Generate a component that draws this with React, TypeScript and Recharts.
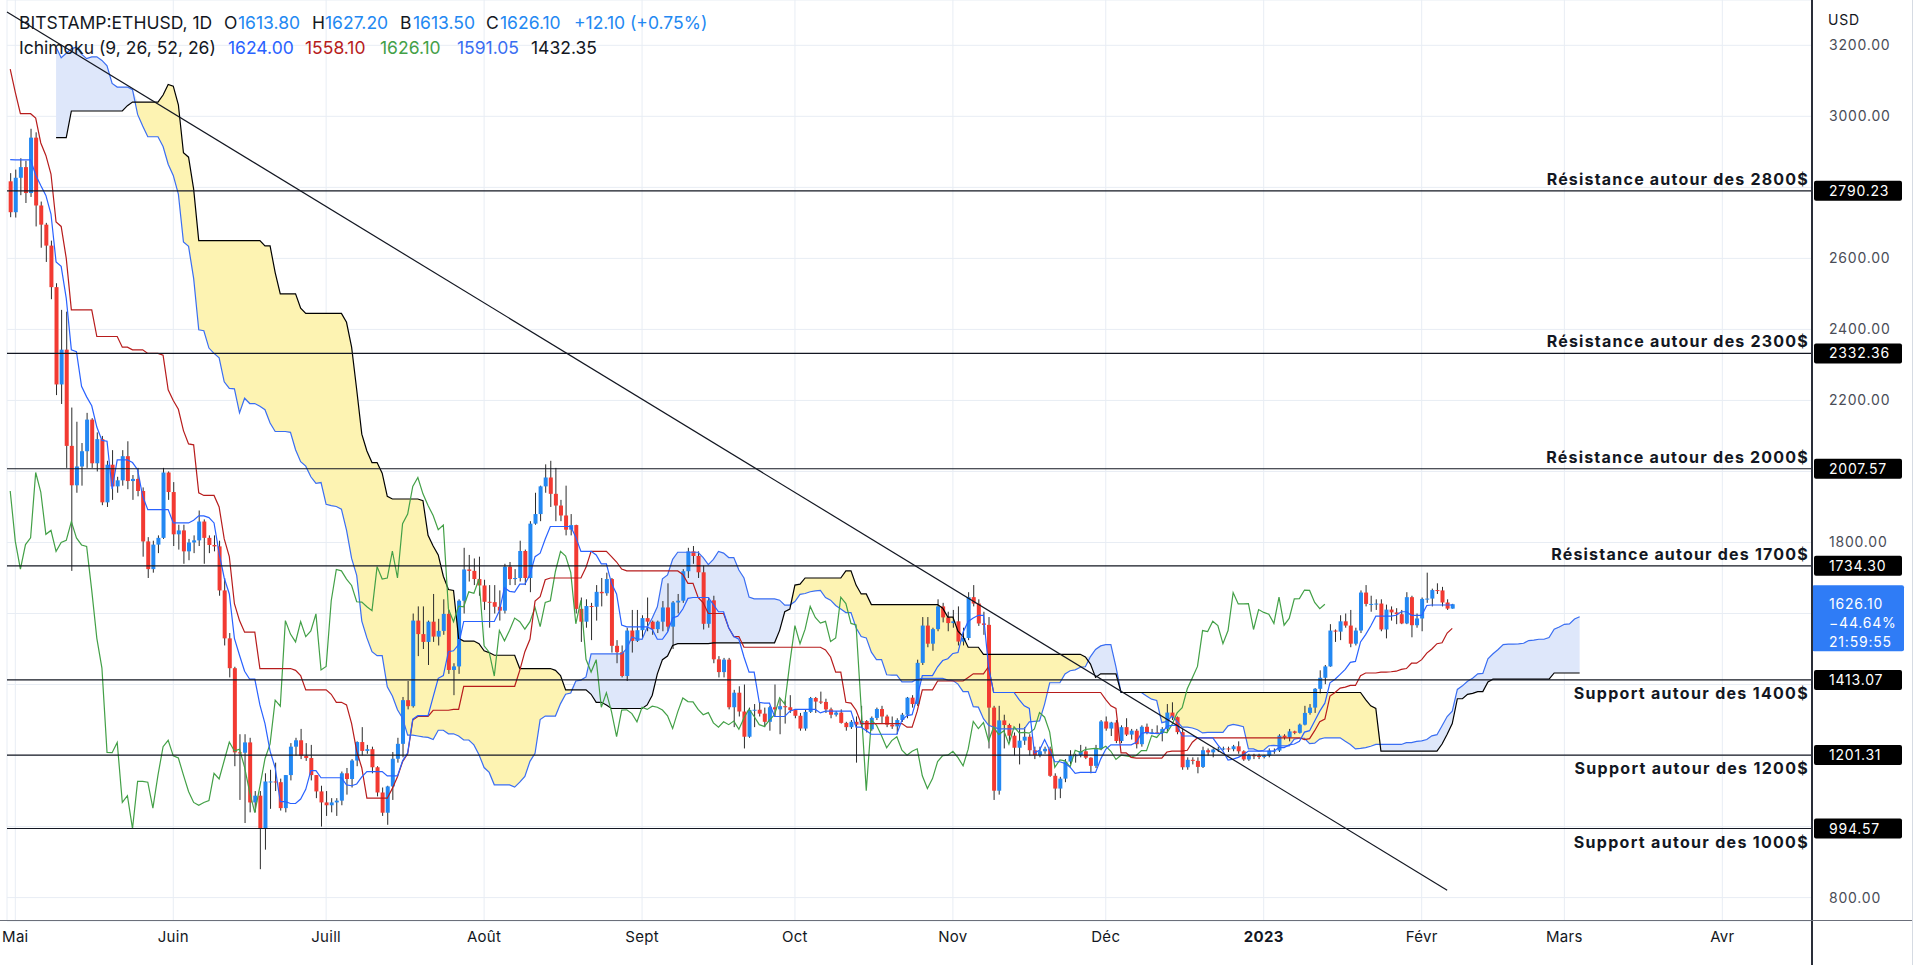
import React from 'react';
import { ComposedChart, Bar, Line, Area, XAxis, YAxis, CartesianGrid, ReferenceLine } from 'recharts';

// [high, low, close] per day. Day 0 = 1 May 2022. Data loaded from 22 Feb 2022 (day -68).
type HLC = [number, number, number];

const feb22: HLC[] = [
  [2650, 2500, 2640], [2740, 2580, 2590], [2640, 2300, 2600], [2810, 2580, 2775], [2850, 2760, 2780], [2830, 2580, 2620], [2940, 2600, 2920],
];
const mar22: HLC[] = [
  [3040, 2870, 2970], [3000, 2900, 2950], [2965, 2820, 2835], [2850, 2600, 2620], [2680, 2590, 2665], [2670, 2540, 2555], [2640, 2450, 2495], [2640, 2480, 2575], [2760, 2570, 2730], [2730, 2560, 2610],
  [2660, 2540, 2560], [2610, 2550, 2575], [2620, 2510, 2520], [2600, 2500, 2590], [2660, 2540, 2620], [2790, 2600, 2770], [2840, 2750, 2815], [2960, 2760, 2945], [3000, 2920, 2950], [2960, 2840, 2860],
  [2950, 2830, 2895], [3040, 2880, 2970], [3040, 2930, 3030], [3120, 3000, 3110], [3190, 3080, 3110], [3150, 3090, 3140], [3300, 3130, 3290], [3400, 3280, 3335], [3480, 3330, 3400], [3440, 3340, 3385],
  [3450, 3270, 3280],
];
const apr22: HLC[] = [
  [3470, 3220, 3450], [3530, 3430, 3445], [3580, 3420, 3520], [3540, 3400, 3520], [3550, 3410, 3410], [3420, 3150, 3170], [3260, 3160, 3235], [3290, 3170, 3190], [3270, 3190, 3260], [3300, 3200, 3210],
  [3220, 2950, 2980], [3080, 2960, 3030], [3130, 3010, 3120], [3130, 3000, 3020], [3050, 3010, 3040], [3075, 3030, 3060], [3070, 2990, 2990], [3070, 2950, 3060], [3130, 3030, 3105], [3170, 3060, 3075],
  [3190, 2960, 2985], [3020, 2950, 2965], [2980, 2930, 2935], [2960, 2900, 2920], [3020, 2800, 3010], [3040, 2780, 2810], [2920, 2790, 2890], [2980, 2860, 2935], [2950, 2790, 2817], [2840, 2716, 2730],
];
const may22: HLC[] = [
  [2850, 2715, 2827], [2882, 2778, 2857], [2875, 2756, 2784], [2965, 2773, 2940], [2955, 2690, 2749], [2760, 2630, 2695], [2700, 2590, 2636], [2650, 2485, 2519], [2530, 2215, 2245], [2455, 2190, 2343],
  [2450, 2010, 2072], [2180, 1720, 1961], [2140, 1940, 2014], [2080, 1960, 2057], [2165, 2010, 2146], [2150, 2010, 2023], [2110, 2000, 2091], [2100, 1905, 1913], [2030, 1900, 2019], [2060, 1920, 1958],
  [1985, 1940, 1975], [2060, 1960, 2043], [2085, 1950, 1973], [1990, 1920, 1979], [2010, 1930, 1945], [1955, 1760, 1803], [1815, 1700, 1725], [1805, 1715, 1794], [1820, 1770, 1813], [2010, 1810, 1997],
  [2000, 1920, 1942],
];
const jun22: HLC[] = [
  [1970, 1790, 1823], [1850, 1780, 1834], [1850, 1740, 1775], [1810, 1750, 1800], [1820, 1770, 1806], [1890, 1790, 1859], [1865, 1740, 1813], [1820, 1770, 1793], [1820, 1775, 1789], [1805, 1650, 1665],
  [1700, 1510, 1530], [1545, 1420, 1446], [1450, 1170, 1209], [1260, 1075, 1208], [1260, 1010, 1237], [1250, 1040, 1068], [1100, 1040, 1087], [1100, 880, 994], [1150, 935, 1127], [1160, 1050, 1127],
  [1180, 1100, 1125], [1135, 1045, 1052], [1145, 1040, 1145], [1235, 1130, 1225], [1250, 1200, 1243], [1275, 1190, 1199], [1235, 1185, 1193], [1230, 1130, 1145], [1145, 1080, 1099], [1115, 1000, 1068],
];
const jul22: HLC[] = [
  [1100, 1030, 1060], [1080, 1040, 1068], [1080, 1030, 1073], [1155, 1060, 1150], [1165, 1090, 1134], [1190, 1110, 1186], [1240, 1170, 1238], [1280, 1200, 1213], [1230, 1205, 1218], [1225, 1150, 1167],
  [1170, 1085, 1096], [1110, 1030, 1039], [1115, 1005, 1113], [1210, 1075, 1191], [1250, 1180, 1233], [1365, 1195, 1356], [1410, 1330, 1339], [1600, 1335, 1580], [1620, 1480, 1542], [1620, 1500, 1520],
  [1580, 1455, 1577], [1655, 1520, 1535], [1585, 1510, 1551], [1640, 1540, 1599], [1610, 1430, 1441], [1460, 1370, 1451], [1640, 1430, 1636], [1785, 1600, 1724], [1765, 1690, 1720], [1755, 1680, 1697],
  [1760, 1650, 1679],
];
const aug22: HLC[] = [
  [1695, 1610, 1633], [1680, 1560, 1632], [1680, 1600, 1619], [1665, 1580, 1608], [1740, 1600, 1732], [1745, 1680, 1697], [1725, 1680, 1700], [1805, 1690, 1776], [1780, 1680, 1700], [1860, 1660, 1853],
  [1940, 1850, 1880], [1960, 1860, 1958], [2020, 1940, 1983], [2030, 1900, 1937], [2010, 1860, 1904], [1920, 1860, 1876], [1960, 1820, 1836], [1880, 1820, 1849], [1850, 1600, 1613], [1645, 1520, 1577],
  [1640, 1560, 1621], [1630, 1525, 1619], [1680, 1580, 1661], [1700, 1620, 1657], [1715, 1650, 1697], [1700, 1490, 1509], [1525, 1460, 1491], [1510, 1420, 1424], [1560, 1410, 1552], [1610, 1490, 1523],
  [1610, 1520, 1553],
];
const sep22: HLC[] = [
  [1595, 1530, 1587], [1645, 1550, 1577], [1580, 1540, 1556], [1580, 1545, 1577], [1635, 1550, 1617], [1685, 1550, 1563], [1635, 1500, 1631], [1655, 1600, 1636], [1725, 1630, 1719], [1785, 1700, 1775],
  [1790, 1740, 1762], [1775, 1700, 1716], [1735, 1555, 1571], [1645, 1560, 1637], [1650, 1460, 1471], [1480, 1420, 1435], [1475, 1420, 1470], [1475, 1330, 1336], [1385, 1280, 1377], [1395, 1310, 1324],
  [1400, 1220, 1253], [1335, 1250, 1328], [1345, 1280, 1329], [1350, 1310, 1318], [1335, 1280, 1295], [1340, 1270, 1336], [1400, 1310, 1330], [1360, 1260, 1339], [1355, 1290, 1336], [1370, 1320, 1328],
];
const oct22: HLC[] = [
  [1330, 1305, 1312], [1320, 1270, 1276], [1330, 1270, 1323], [1365, 1320, 1362], [1365, 1320, 1352], [1380, 1345, 1351], [1360, 1320, 1330], [1335, 1305, 1315], [1325, 1310, 1321], [1330, 1290, 1292],
  [1295, 1270, 1280], [1300, 1275, 1295], [1310, 1180, 1287], [1340, 1280, 1297], [1300, 1265, 1274], [1310, 1270, 1306], [1335, 1300, 1331], [1340, 1290, 1310], [1315, 1280, 1287], [1310, 1275, 1282],
  [1305, 1260, 1300], [1320, 1295, 1315], [1365, 1305, 1363], [1370, 1335, 1345], [1470, 1340, 1461], [1590, 1455, 1566], [1590, 1505, 1515], [1560, 1495, 1556], [1640, 1550, 1620], [1630, 1575, 1589],
  [1605, 1550, 1573],
];
const nov22: HLC[] = [
  [1610, 1560, 1578], [1620, 1510, 1521], [1560, 1510, 1531], [1660, 1525, 1646], [1680, 1620, 1628], [1640, 1565, 1572], [1605, 1540, 1568], [1590, 1220, 1335], [1340, 1075, 1101], [1340, 1090, 1299],
  [1315, 1220, 1286], [1290, 1240, 1256], [1265, 1200, 1222], [1290, 1175, 1242], [1280, 1230, 1253], [1260, 1200, 1215], [1225, 1190, 1201], [1225, 1195, 1212], [1225, 1205, 1219], [1225, 1140, 1143],
  [1150, 1075, 1107], [1140, 1080, 1135], [1190, 1125, 1183], [1215, 1175, 1200], [1205, 1180, 1201], [1230, 1195, 1212], [1225, 1190, 1194], [1195, 1150, 1171], [1230, 1165, 1218], [1300, 1215, 1296],
];
const dec22: HLC[] = [
  [1310, 1270, 1276], [1295, 1255, 1293], [1300, 1235, 1241], [1285, 1235, 1280], [1305, 1255, 1259], [1275, 1245, 1270], [1275, 1220, 1232], [1285, 1225, 1281], [1290, 1260, 1264], [1275, 1260, 1265],
  [1285, 1260, 1263], [1280, 1240, 1275], [1345, 1265, 1321], [1350, 1300, 1308], [1310, 1260, 1266], [1275, 1160, 1167], [1195, 1160, 1188], [1195, 1175, 1185], [1195, 1150, 1168], [1225, 1165, 1215],
  [1220, 1200, 1209], [1220, 1195, 1217], [1225, 1210, 1219], [1225, 1215, 1220], [1225, 1210, 1218], [1230, 1212, 1226], [1240, 1205, 1212], [1215, 1185, 1189], [1205, 1185, 1201], [1205, 1190, 1199],
  [1205, 1190, 1196],
];
const jan23: HLC[] = [
  [1202, 1192, 1200], [1220, 1195, 1214], [1220, 1205, 1214], [1260, 1210, 1256], [1260, 1245, 1251], [1275, 1240, 1268], [1270, 1260, 1264], [1290, 1262, 1287], [1340, 1285, 1320], [1345, 1315, 1335],
  [1390, 1320, 1388], [1440, 1375, 1419], [1455, 1401, 1451], [1570, 1450, 1552], [1555, 1520, 1549], [1595, 1525, 1578], [1600, 1560, 1566], [1610, 1505, 1515], [1560, 1510, 1552], [1665, 1545, 1659],
  [1680, 1620, 1627], [1650, 1605, 1627], [1640, 1610, 1628], [1640, 1550, 1555], [1625, 1530, 1611], [1620, 1580, 1603], [1615, 1570, 1598], [1610, 1570, 1572], [1660, 1570, 1646], [1650, 1533, 1567],
  [1600, 1560, 1586],
];
const feb23: HLC[] = [
  [1645, 1550, 1641], [1715, 1630, 1642], [1670, 1620, 1666], [1685, 1655, 1665], [1675, 1620, 1631], [1640, 1610, 1613.8], [1627.2, 1613.5, 1626.1],
];

const START_DAY = -68;
const FIRST_VISIBLE_DAY = -1;
const SHIFT = 25; // displacement 26, plotted with offset 25
const TENKAN_LEN = 9;
const KIJUN_LEN = 26;
const SPANB_LEN = 52;

const monthTicks = [0, 31, 61, 92, 123, 153, 184, 214, 245, 276, 304, 335];
const monthLabels = ['Mai', 'Juin', 'Juill', 'Août', 'Sept', 'Oct', 'Nov', 'Déc', '2023', 'Févr', 'Mars', 'Avr'];
const priceTicks = [800, 1000, 1200, 1400, 1600, 1800, 2000, 2200, 2400, 2600, 2800, 3000, 3200];
const hiddenPriceLabels = [1000, 1200, 1400, 1600, 2000, 2800];

const levelValues = [2790.23, 2332.36, 2007.57, 1734.3, 1413.07, 1201.31, 994.57];
const levelTexts = [
  'Résistance autour des 2800$',
  'Résistance autour des 2300$',
  'Résistance autour des 2000$',
  'Résistance autour des 1700$',
  'Support autour des 1400$',
  'Support autour des 1200$',
  'Support autour des 1000$',
];
const levelIsSupport = [false, false, false, false, true, true, true];

const trendDays = [-1.63, 281];
const trendPrices = [3294, 821];

const lastPrice = 1626.1;
const lastTagLines = ['1626.10', '−44.64%', '21:59:55'];

const UP = '#2388F2';
const DOWN = '#F23A32';
const TENKAN = '#2962FF';
const KIJUN = '#B71C1C';
const CHIKOU = '#43A047';
const SPAN_A = '#3A6EF2';
const SPAN_B = '#000000';
const FILL_BEAR = '#FDF3B2';
const FILL_BULL = '#DEE7FA';
const FONT = 'Inter, "Noto Sans", "DejaVu Sans", sans-serif';

const allBars: HLC[] = [...feb22, ...mar22, ...apr22, ...may22, ...jun22, ...jul22, ...aug22, ...sep22, ...oct22, ...nov22, ...dec22, ...jan23, ...feb23];
const highs = allBars.map((b) => b[0]);
const lows = allBars.map((b) => b[1]);
const closes = allBars.map((b) => b[2]);
const lastIdx = allBars.length - 1;
const lastDay = START_DAY + lastIdx;

function midRange(endIdx: number, len: number): number | null {
  if (endIdx < 0 || endIdx > lastIdx || endIdx - len + 1 < 0) return null;
  let hi = -Infinity;
  let lo = Infinity;
  for (let k = endIdx - len + 1; k <= endIdx; k++) {
    hi = Math.max(hi, highs[k]);
    lo = Math.min(lo, lows[k]);
  }
  return (hi + lo) / 2;
}

type Row = { [k: string]: any };
const rows: Row[] = [];
for (let d = FIRST_VISIBLE_DAY; d <= lastDay + SHIFT; d++) {
  const i = d - START_DAY;
  const row: Row = { d };
  if (i <= lastIdx) {
    const [h, l, c] = allBars[i];
    const o = closes[i - 1];
    row.o = o;
    row.h = h;
    row.l = l;
    row.c = c;
    row.range = [Math.min(l, o, c), Math.max(h, o, c)];
    row.tenkan = midRange(i, TENKAN_LEN);
    row.kijun = midRange(i, KIJUN_LEN);
  }
  if (i + SHIFT <= lastIdx) row.chikou = closes[i + SHIFT];
  const j = i - SHIFT;
  const b = midRange(j, SPANB_LEN);
  const t = midRange(j, TENKAN_LEN);
  const k = midRange(j, KIJUN_LEN);
  if (b != null && t != null && k != null) {
    const a = (t + k) / 2;
    row.spanA = a;
    row.spanB = b;
    row.cloudBear = [a, Math.max(a, b)];
    row.cloudBull = [b, Math.max(a, b)];
  }
  rows.push(row);
}

const Candle = (props: any) => {
  const { x, y, width, height, payload } = props;
  if (!payload || payload.c == null || y == null || height == null || isNaN(y)) return null;
  const top = Math.min(y, y + height);
  const bot = Math.max(y, y + height);
  const [lo, hi] = payload.range;
  const toY = (p: number) => (hi === lo ? top : top + ((hi - p) / (hi - lo)) * (bot - top));
  const cx = x + width / 2;
  const up = payload.c >= payload.o;
  const yO = toY(payload.o);
  const yC = toY(payload.c);
  const bTop = Math.min(yO, yC);
  const bH = Math.max(1, Math.abs(yO - yC));
  return (
    <g>
      <line x1={cx} x2={cx} y1={top} y2={bot} stroke="#2b2b2b" strokeWidth={1} />
      <rect x={cx - 2} y={bTop} width={4} height={bH} fill={up ? UP : DOWN} />
    </g>
  );
};

const PLOT_RIGHT = 1812;

const LevelLabel = (idx: number) => (props: any) => {
  const vb = props.viewBox || {};
  const ly = vb.y;
  if (ly == null) return null;
  const support = levelIsSupport[idx];
  return (
    <g>
      <text
        x={PLOT_RIGHT - 3}
        y={support ? ly + 19 : ly - 6}
        textAnchor="end"
        fontFamily={FONT}
        fontWeight={700}
        fontSize={16}
        letterSpacing={support ? 1.3 : 1.2}
        fill="#131722"
      >
        {levelTexts[idx]}
      </text>
      <rect x={PLOT_RIGHT + 2} y={ly - 10} width={88} height={20} rx={2} fill="#000" />
      <text x={1829} y={ly + 5} fontFamily={FONT} fontSize={14} letterSpacing={0.8} fill="#fff">
        {levelValues[idx].toFixed(2)}
      </text>
    </g>
  );
};

const LastPriceTag = (props: any) => {
  const vb = props.viewBox || {};
  const ly = vb.y;
  if (ly == null) return null;
  return (
    <g>
      <rect x={PLOT_RIGHT} y={ly - 19} width={92} height={66} rx={2} fill="#2F7CF6" />
      {lastTagLines.map((t, n) => (
        <text key={n} x={1829} y={ly + 5 + n * 19} fontFamily={FONT} fontSize={14} letterSpacing={0.8} fill="#fff">
          {t}
        </text>
      ))}
    </g>
  );
};

const MonthTick = (props: any) => {
  const { x, payload } = props;
  const idx = monthTicks.indexOf(payload.value);
  const label = monthLabels[idx] ?? '';
  return (
    <text x={x} y={942} textAnchor="middle" fontFamily={FONT} fontSize={15} letterSpacing={0.3}
      fontWeight={label === '2023' ? 700 : 400} fill="#131722">
      {label}
    </text>
  );
};

const PriceTick = (props: any) => {
  const { y, payload } = props;
  if (hiddenPriceLabels.includes(payload.value)) return null;
  return (
    <text x={1829} y={y + 5} fontFamily={FONT} fontSize={14} letterSpacing={0.8} fill="#4a4d57">
      {Number(payload.value).toFixed(2)}
    </text>
  );
};

const header1: [number, string, string][] = [
  [19, 'BITSTAMP:ETHUSD, 1D', '#131722'],
  [224, 'O', '#131722'], [238, '1613.80', UP],
  [312, 'H', '#131722'], [325, '1627.20', UP],
  [400, 'B', '#131722'], [413, '1613.50', UP],
  [486, 'C', '#131722'], [500, '1626.10', UP],
  [574, '+12.10 (+0.75%)', UP],
];
const header2: [number, string, string][] = [
  [19, 'Ichimoku (9, 26, 52, 26)', '#131722'],
  [228, '1624.00', TENKAN],
  [305, '1558.10', KIJUN],
  [380, '1626.10', CHIKOU],
  [457, '1591.05', SPAN_A],
  [531, '1432.35', '#131722'],
];

const Header = () => {
  const st = (x: number, y: number, c: string): React.CSSProperties => ({
    position: 'absolute', left: x, top: y, color: c, fontFamily: FONT, fontSize: 17.5, lineHeight: '22px', whiteSpace: 'nowrap',
  });
  return (
    <>
      {header1.map(([x, t, c], n) => <div key={'a' + n} style={st(x, 12, c)}>{t}</div>)}
      {header2.map(([x, t, c], n) => <div key={'b' + n} style={st(x, 37, c)}>{t}</div>)}
    </>
  );
};

export default function App() {
  return (
    <div style={{ position: 'absolute', left: 0, top: 0, width: 1920, height: 965, overflow: 'hidden', background: '#fff' }}>
      <ComposedChart width={1920} height={965} data={rows} margin={{ top: 0, right: 0, bottom: 0, left: 7 }}>
        <CartesianGrid stroke="#E8EDF4" strokeWidth={1} />
        <XAxis
          dataKey="d"
          type="number"
          domain={[-1.63, 352.6]}
          allowDataOverflow
          ticks={monthTicks}
          tick={<MonthTick />}
          axisLine={false}
          tickLine={false}
          height={44}
          interval={0}
        />
        <YAxis
          orientation="right"
          type="number"
          domain={[734.1, 3327.6]}
          allowDataOverflow
          ticks={priceTicks}
          tick={<PriceTick />}
          axisLine={false}
          tickLine={false}
          width={108}
          interval={0}
        />
        <Area dataKey="cloudBear" stroke="none" fill={FILL_BEAR} fillOpacity={1} isAnimationActive={false} connectNulls={false} />
        <Area dataKey="cloudBull" stroke="none" fill={FILL_BULL} fillOpacity={1} isAnimationActive={false} connectNulls={false} />
        <Line dataKey="spanA" stroke={SPAN_A} strokeWidth={1.2} dot={false} activeDot={false} isAnimationActive={false} />
        <Line dataKey="spanB" stroke={SPAN_B} strokeWidth={1.2} dot={false} activeDot={false} isAnimationActive={false} />
        <Bar dataKey="range" barSize={4} shape={<Candle />} isAnimationActive={false} />
        <Line dataKey="chikou" stroke={CHIKOU} strokeWidth={1.2} dot={false} activeDot={false} isAnimationActive={false} />
        <Line dataKey="kijun" stroke={KIJUN} strokeWidth={1.2} dot={false} activeDot={false} isAnimationActive={false} />
        <Line dataKey="tenkan" stroke={TENKAN} strokeWidth={1.2} dot={false} activeDot={false} isAnimationActive={false} />
        <ReferenceLine
          segment={[{ x: trendDays[0], y: trendPrices[0] }, { x: trendDays[1], y: trendPrices[1] }]}
          stroke="#131722"
          strokeWidth={1.2}
          ifOverflow="visible"
        />
        {levelValues.map((v, n) => (
          <ReferenceLine key={n} y={v} stroke="#131722" strokeWidth={1.2} label={LevelLabel(n)} ifOverflow="visible" />
        ))}
        <ReferenceLine y={lastPrice} stroke="none" strokeOpacity={0} label={LastPriceTag} ifOverflow="visible" />
      </ComposedChart>
      <div style={{ position: 'absolute', left: 1828, top: 11, fontFamily: FONT, fontSize: 14, letterSpacing: 0.8, color: '#131722' }}>USD</div>
      <div style={{ position: 'absolute', left: PLOT_RIGHT - 1, top: 0, width: 2, height: 965, background: '#2a2e39' }} />
      <div style={{ position: 'absolute', left: 0, top: 920, width: 1912, height: 1, background: '#6b6f7a' }} />
      <div style={{ position: 'absolute', left: 1912, top: 0, width: 1, height: 965, background: '#d6dbe3' }} />
      <Header />
    </div>
  );
}
